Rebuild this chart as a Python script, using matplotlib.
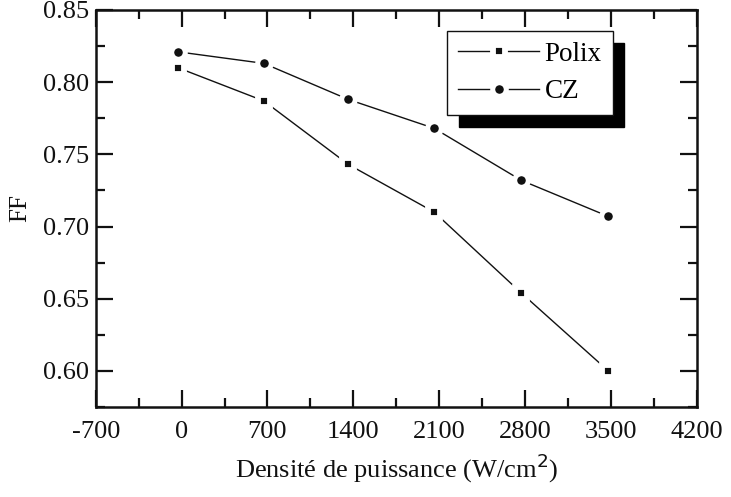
import matplotlib
matplotlib.use("Agg")
import matplotlib.pyplot as plt
from matplotlib.ticker import MultipleLocator

# valeurs
puissance = [-30, 670, 1360, 2060, 2770, 3480]
ff_polix = [0.810, 0.787, 0.743, 0.710, 0.654, 0.600]
ff_cz = [0.821, 0.813, 0.788, 0.768, 0.732, 0.707]

x_ticks = [-700, 0, 700, 1400, 2100, 2800, 3500, 4200]
y_ticks = [0.60, 0.65, 0.70, 0.75, 0.80, 0.85]

plt.rcParams['font.family'] = ['Liberation Serif', 'DejaVu Serif']
plt.rcParams['axes.unicode_minus'] = False
ink = '#111111'

fig = plt.figure(figsize=(7.31, 4.97), dpi=100)
ax = fig.add_axes([0.131, 0.181, 0.822, 0.799])

ax.plot(puissance, ff_polix, color=ink, lw=1.0, marker='s', ms=8.8,
        mfc=ink, mec='white', mew=4.2, label='Polix')
ax.plot(puissance, ff_cz, color=ink, lw=1.0, marker='o', ms=9.8,
        mfc=ink, mec='white', mew=3.6, label='CZ')

ax.set_xlim(-700, 4200)
ax.set_ylim(0.575, 0.85)
ax.set_xticks(x_ticks)
ax.set_xticklabels([str(v) for v in x_ticks])
ax.set_yticks(y_ticks)
ax.set_yticklabels(['%.2f' % v for v in y_ticks])
ax.xaxis.set_minor_locator(MultipleLocator(350))
ax.yaxis.set_minor_locator(MultipleLocator(0.025))
ax.tick_params(which='both', direction='in', top=True, right=True,
               labelsize=19, colors=ink, width=1.6)
ax.tick_params(which='major', length=12)
ax.tick_params(which='minor', length=6.5)
ax.tick_params(axis='x', which='major', pad=10)
ax.tick_params(axis='y', which='major', pad=5)
for s in ax.spines.values():
    s.set_linewidth(1.8)
    s.set_color(ink)

ax.set_xlabel('Densité de puissance (W/cm$^2$)', fontsize=19, color=ink, labelpad=6)
ax.set_ylabel('FF', fontsize=18, color=ink, labelpad=8)

leg = ax.legend(loc='upper right', bbox_to_anchor=(0.86, 0.947), fontsize=19.5,
                frameon=True, fancybox=False, handlelength=3.0, handletextpad=0.2,
                borderpad=0.4, labelspacing=0.45, borderaxespad=0,
                shadow={'ox': 8.6, 'oy': -8.6, 'color': 'black', 'alpha': 1})
leg.get_frame().set_edgecolor(ink)
leg.get_frame().set_linewidth(1.0)

fig.savefig('out.png', dpi=100)
